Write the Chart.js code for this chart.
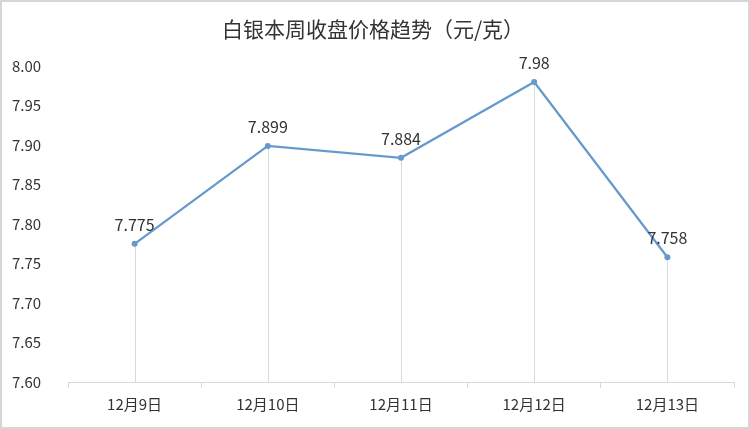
<!DOCTYPE html>
<html>
<head>
<meta charset="utf-8">
<script src="https://cdn.jsdelivr.net/npm/chart.js@4/dist/chart.umd.min.js"></script>
<style>
  html, body { margin: 0; padding: 0; background: #fff; }
  #wrap { width: 750px; height: 429px; }
</style>
</head>
<body>
<div id="wrap"><canvas id="silverChart" width="750" height="429"></canvas></div>
<script>
// 数据
const categories = ['12月9日', '12月10日', '12月11日', '12月12日', '12月13日'];
const closePrices = [7.775, 7.899, 7.884, 7.98, 7.758];
const priceLabels = ['7.775', '7.899', '7.884', '7.98', '7.758'];
const yMin = 7.6;
const yMax = 8.0;
const yStep = 0.05;

const FONT = '"Noto Sans CJK SC", "Noto Sans", sans-serif';
const lineColor = '#6699cc';

// 外框
const framePlugin = {
    id: 'frame',
    beforeDraw(chart) {
        const ctx = chart.ctx;
        ctx.save();
        ctx.fillStyle = '#ffffff';
        ctx.fillRect(0, 0, chart.width, chart.height);
        ctx.strokeStyle = '#d6d6d6';
        ctx.lineWidth = 2;
        ctx.strokeRect(1, 1, chart.width - 2, chart.height - 2);
        ctx.restore();
    }
};

// 垂直线（从点到横轴）
const dropLinePlugin = {
    id: 'dropLines',
    beforeDatasetsDraw(chart) {
        const ctx = chart.ctx;
        const meta = chart.getDatasetMeta(0);
        const bottom = chart.scales.y.bottom;
        ctx.save();
        ctx.strokeStyle = '#d9d9d9';
        ctx.lineWidth = 1;
        meta.data.forEach(pt => {
            const x = Math.round(pt.x) + 0.5;
            ctx.beginPath();
            ctx.moveTo(x, pt.y);
            ctx.lineTo(x, bottom);
            ctx.stroke();
        });
        ctx.restore();
    }
};

// 数据标签
const valueLabelPlugin = {
    id: 'valueLabels',
    afterDatasetsDraw(chart) {
        const ctx = chart.ctx;
        const meta = chart.getDatasetMeta(0);
        ctx.save();
        ctx.font = '16px ' + FONT;
        ctx.fillStyle = '#333333';
        ctx.textAlign = 'center';
        ctx.textBaseline = 'bottom';
        meta.data.forEach((pt, i) => {
            ctx.fillText(priceLabels[i], pt.x, pt.y - 11);
        });
        ctx.restore();
    }
};

new Chart(document.getElementById('silverChart'), {
    type: 'line',
    data: {
        labels: categories,
        datasets: [{
            label: '收盘价',
            data: closePrices,
            borderColor: lineColor,
            backgroundColor: lineColor,
            borderWidth: 2.25,
            pointRadius: 3,
            pointBorderWidth: 0,
            tension: 0
        }]
    },
    options: {
        responsive: false,
        animation: false,
        layout: {
            padding: { left: 12, right: 16, top: 10, bottom: 9 }
        },
        plugins: {
            legend: { display: false },
            tooltip: { enabled: false },
            title: {
                display: true,
                text: '白银本周收盘价格趋势（元/克）',
                color: '#333333',
                font: { family: FONT, size: 21, weight: 'normal' },
                padding: { top: 6, bottom: 25 }
            }
        },
        scales: {
            x: {
                offset: true,
                grid: {
                    display: true,
                    offset: true,
                    drawOnChartArea: false,
                    drawTicks: true,
                    tickLength: 6,
                    color: '#d9d9d9'
                },
                border: { display: true, color: '#d9d9d9', width: 1 },
                ticks: {
                    color: '#333333',
                    font: { family: FONT, size: 15 },
                    padding: 7,
                    maxRotation: 0
                }
            },
            y: {
                min: yMin,
                max: yMax,
                grid: { display: false },
                border: { display: false },
                ticks: {
                    stepSize: yStep,
                    color: '#333333',
                    font: { family: FONT, size: 15 },
                    align: 'center',
                    crossAlign: 'far',
                    callback: v => Number(v).toFixed(2)
                },
                afterFit(scale) {
                    scale.width = 56;
                }
            }
        }
    },
    plugins: [framePlugin, dropLinePlugin, valueLabelPlugin]
});
</script>
</body>
</html>
